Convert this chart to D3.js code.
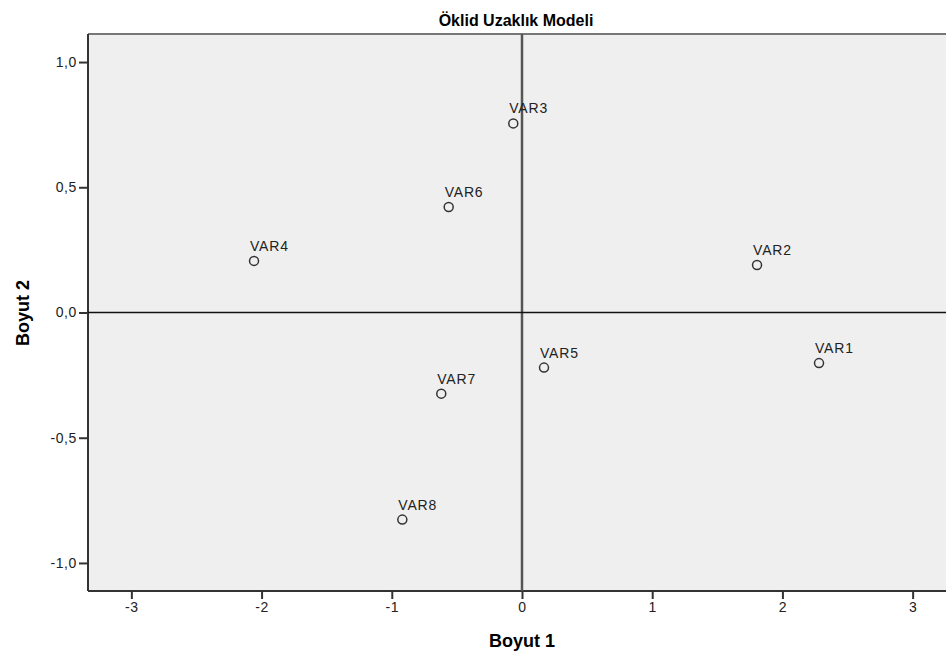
<!DOCTYPE html>
<html>
<head>
<meta charset="utf-8">
<script src="https://cdn.jsdelivr.net/npm/d3@7"></script>
<style>
  body { margin: 0; background: #fff; }
  svg { display: block; font-family: "Liberation Sans", Arial, sans-serif; }
</style>
</head>
<body>
<div id="chart"></div>
<script>
// stimulus coordinates (Euclidean distance model)
var labels = ["VAR1", "VAR2", "VAR3", "VAR4", "VAR5", "VAR6", "VAR7", "VAR8"];
var dim1 = [2.281, 1.805, -0.067, -2.058, 0.169, -0.563, -0.620, -0.919];
var dim2 = [-0.202, 0.190, 0.755, 0.206, -0.220, 0.421, -0.324, -0.827];
var xTicks = [-3, -2, -1, 0, 1, 2, 3];
var yTicks = [-1.0, -0.5, 0.0, 0.5, 1.0];

var width = 946,
    height = 655,
    margin = {top: 34, right: -10, bottom: 64, left: 88};

var points = labels.map((d, i) => ({name: d, x: dim1[i], y: dim2[i]}));

var svg = d3.select('#chart')
  .append("svg")
  .attr("width", width)
  .attr("height", height);

var xScale = d3.scaleLinear().domain([-3.333, 3.333]).range([margin.left, width - margin.right]);
var yScale = d3.scaleLinear().domain([-1.112, 1.112]).range([height - margin.bottom, margin.top]);

// plot background
svg.append("rect")
  .attr("x", margin.left)
  .attr("y", margin.top)
  .attr("width", width - margin.right - margin.left)
  .attr("height", height - margin.bottom - margin.top)
  .style("fill", "#efefef")
  .style("stroke", "none");

// top border
svg.append("line")
  .attr("x1", margin.left).attr("x2", width)
  .attr("y1", margin.top).attr("y2", margin.top)
  .style("stroke", "#777").style("stroke-width", 2);

var fmt = d3.format(".1f");
var yAxis = d3.axisLeft(yScale).tickValues(yTicks).tickSizeOuter(0).tickSize(9)
  .tickFormat(d => fmt(d).replace(".", ",").replace("\u2212", "-"));
var xAxis = d3.axisBottom(xScale).tickValues(xTicks).tickSizeOuter(0).tickSize(8)
  .tickFormat(d => d3.format("d")(d).replace("\u2212", "-"));

var gy = svg.append("g")
  .attr("transform", `translate(${margin.left},0)`)
  .call(yAxis);
var gx = svg.append("g")
  .attr("transform", `translate(0,${height - margin.bottom})`)
  .call(xAxis);

[gx, gy].forEach(g => {
  g.select(".domain").style("stroke", "#333").style("stroke-width", 2);
  g.selectAll(".tick line").style("stroke", "#333").style("stroke-width", 2);
  g.selectAll(".tick text").style("font-size", "14px").style("fill", "#222")
    .style("letter-spacing", "0.6px")
    .style("font-family", "'Liberation Sans', Arial, sans-serif");
});
gy.select(".domain").attr("d", `M0,${margin.top}V${height - margin.bottom}`);
gx.select(".domain").attr("d", `M${margin.left},0H${width}`);
gy.selectAll(".tick text").attr("x", -11);
gx.selectAll(".tick text").attr("y", 11);

// reference lines at zero
svg.append("line")
  .attr("x1", xScale(0)).attr("x2", xScale(0))
  .attr("y1", margin.top).attr("y2", height - margin.bottom)
  .style("stroke", "#555").style("stroke-width", 2.5);
svg.append("line")
  .attr("x1", margin.left).attr("x2", width)
  .attr("y1", yScale(0)).attr("y2", yScale(0))
  .style("stroke", "#111").style("stroke-width", 1.5);

// points
svg.selectAll(".pt")
  .data(points)
  .enter().append("circle")
  .attr("class", "pt")
  .attr("cx", d => xScale(d.x))
  .attr("cy", d => yScale(d.y))
  .attr("r", 4.5)
  .style("fill", "none")
  .style("stroke", "#333")
  .style("stroke-width", 1.5);

svg.selectAll(".lbl")
  .data(points)
  .enter().append("text")
  .attr("class", "lbl")
  .attr("x", d => xScale(d.x) - 4)
  .attr("y", d => yScale(d.y) - 10)
  .style("font-size", "14px")
  .style("letter-spacing", "0.8px")
  .style("fill", "#222")
  .text(d => d.name);

// titles
svg.append("text")
  .attr("x", 516).attr("y", 26)
  .attr("text-anchor", "middle")
  .style("font-size", "16px").style("font-weight", "bold")
  .text("Öklid Uzaklık Modeli");

svg.append("text")
  .attr("x", 522).attr("y", 647)
  .attr("text-anchor", "middle")
  .style("font-size", "18px").style("font-weight", "bold")
  .text("Boyut 1");

svg.append("text")
  .attr("transform", "translate(29,313) rotate(-90)")
  .attr("text-anchor", "middle")
  .style("font-size", "18px").style("font-weight", "bold")
  .text("Boyut 2");
</script>
</body>
</html>
